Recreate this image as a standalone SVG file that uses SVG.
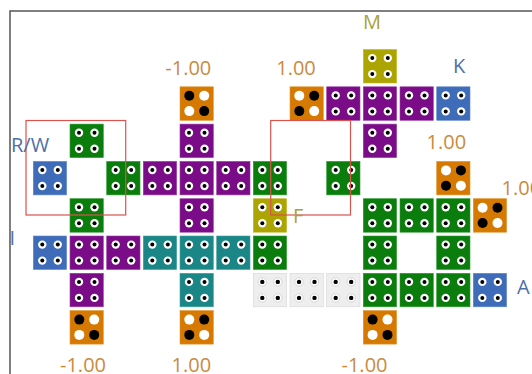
<svg xmlns="http://www.w3.org/2000/svg" xmlns:xlink="http://www.w3.org/1999/xlink" width="532" height="374" viewBox="0 0 532 374">
<style>
.t{stroke-width:0.6}
.g{fill:#0b7d0d;stroke:#2f9a30}
.p{fill:#7b0c88;stroke:#9a3aa6}
.b{fill:#3e6cb8;stroke:#5f88c9}
.c{fill:#1a8686;stroke:#3fa0a0}
.o{fill:#d67900;stroke:#e0952f}
.y{fill:#aca400;stroke:#c0b92f}
.e{fill:#eeeeee;stroke:#d6d6d6}
.lbl{font-family:"Open Sans","Noto Sans",sans-serif;font-size:20px}
.num{fill:#c98b3e}
.blu{fill:#4f6fa8}
.olv{fill:#a9a23a}
.sel{fill:none;stroke:#d9534f;stroke-width:1.2}
</style>
<defs>
<g id="dots">
<circle cx="9" cy="8.6" r="4.2" fill="#fff"/><circle cx="24.5" cy="8.6" r="4.2" fill="#fff"/>
<circle cx="9" cy="24.6" r="4.2" fill="#fff"/><circle cx="24.5" cy="24.6" r="4.2" fill="#fff"/>
<circle cx="9" cy="8.6" r="2" fill="#000"/><circle cx="24.5" cy="8.6" r="2" fill="#000"/>
<circle cx="9" cy="24.6" r="2" fill="#000"/><circle cx="24.5" cy="24.6" r="2" fill="#000"/>
</g>
<g id="gdots">
<circle cx="9" cy="8.6" r="4.2" fill="#fff" stroke="#cfcfcf" stroke-width="0.8"/><circle cx="24.5" cy="8.6" r="4.2" fill="#fff" stroke="#cfcfcf" stroke-width="0.8"/>
<circle cx="9" cy="24.6" r="4.2" fill="#fff" stroke="#cfcfcf" stroke-width="0.8"/><circle cx="24.5" cy="24.6" r="4.2" fill="#fff" stroke="#cfcfcf" stroke-width="0.8"/>
<circle cx="9" cy="8.6" r="2.2" fill="#000"/><circle cx="24.5" cy="8.6" r="2.2" fill="#000"/>
<circle cx="9" cy="24.6" r="2.2" fill="#000"/><circle cx="24.5" cy="24.6" r="2.2" fill="#000"/>
</g>
<g id="neg">
<circle cx="9.3" cy="9" r="5" fill="#000"/><circle cx="24.2" cy="9" r="5" fill="#fff"/>
<circle cx="9.3" cy="24.3" r="5" fill="#fff"/><circle cx="24.2" cy="24.3" r="5" fill="#000"/>
</g>
<g id="pos">
<circle cx="9.3" cy="9" r="5" fill="#fff"/><circle cx="24.2" cy="9" r="5" fill="#000"/>
<circle cx="9.3" cy="24.3" r="5" fill="#000"/><circle cx="24.2" cy="24.3" r="5" fill="#fff"/>
</g>
<rect id="sq" width="33.3" height="33.5"/>
</defs>
<rect width="532" height="374" fill="#fff"/>
<path d="M10,374 V11 H532" fill="none" stroke="#555" stroke-width="1.5"/>

<g id="tiles">
<!-- row 0 -->
<g id="r0c9" transform="translate(363.3,49.5)"><use href="#sq" class="t y"/><use href="#dots"/></g>
<!-- row 1 -->
<g id="r1c4" transform="translate(180,86.8)"><use href="#sq" class="t o"/><use href="#neg"/></g>
<g id="r1c7" transform="translate(290,86.8)"><use href="#sq" class="t o"/><use href="#pos"/></g>
<g id="r1c8" transform="translate(326.7,86.8)"><use href="#sq" class="t p"/><use href="#dots"/></g>
<g id="r1c9" transform="translate(363.3,86.8)"><use href="#sq" class="t p"/><use href="#dots"/></g>
<g id="r1c10" transform="translate(400,86.8)"><use href="#sq" class="t p"/><use href="#dots"/></g>
<g id="r1c11" transform="translate(436.7,86.8)"><use href="#sq" class="t b"/><use href="#dots"/></g>
<!-- row 2 -->
<g id="r2c1" transform="translate(70,124.1)"><use href="#sq" class="t g"/><use href="#dots"/></g>
<g id="r2c4" transform="translate(180,124.1)"><use href="#sq" class="t p"/><use href="#dots"/></g>
<g id="r2c9" transform="translate(363.3,124.1)"><use href="#sq" class="t p"/><use href="#dots"/></g>
<!-- row 3 -->
<g id="r3c0" transform="translate(33.3,161.4)"><use href="#sq" class="t b"/><use href="#dots"/></g>
<g id="r3c2" transform="translate(106.7,161.4)"><use href="#sq" class="t g"/><use href="#dots"/></g>
<g id="r3c3" transform="translate(143.3,161.4)"><use href="#sq" class="t p"/><use href="#dots"/></g>
<g id="r3c4" transform="translate(180,161.4)"><use href="#sq" class="t p"/><use href="#dots"/></g>
<g id="r3c5" transform="translate(216.7,161.4)"><use href="#sq" class="t p"/><use href="#dots"/></g>
<g id="r3c6" transform="translate(253.3,161.4)"><use href="#sq" class="t g"/><use href="#dots"/></g>
<g id="r3c8" transform="translate(326.7,161.4)"><use href="#sq" class="t g"/><use href="#dots"/></g>
<g id="r3c11" transform="translate(436.7,161.4)"><use href="#sq" class="t o"/><use href="#pos"/></g>
<!-- row 4 -->
<g id="r4c1" transform="translate(70,198.7)"><use href="#sq" class="t g"/><use href="#dots"/></g>
<g id="r4c4" transform="translate(180,198.7)"><use href="#sq" class="t p"/><use href="#dots"/></g>
<g id="r4c6" transform="translate(253.3,198.7)"><use href="#sq" class="t y"/><use href="#dots"/></g>
<g id="r4c9" transform="translate(363.3,198.7)"><use href="#sq" class="t g"/><use href="#dots"/></g>
<g id="r4c10" transform="translate(400,198.7)"><use href="#sq" class="t g"/><use href="#dots"/></g>
<g id="r4c11" transform="translate(436.7,198.7)"><use href="#sq" class="t g"/><use href="#dots"/></g>
<g id="r4c12" transform="translate(473.3,198.7)"><use href="#sq" class="t o"/><use href="#pos"/></g>
<!-- row 5 -->
<g id="r5c0" transform="translate(33.3,236)"><use href="#sq" class="t b"/><use href="#dots"/></g>
<g id="r5c1" transform="translate(70,236)"><use href="#sq" class="t p"/><use href="#dots"/></g>
<g id="r5c2" transform="translate(106.7,236)"><use href="#sq" class="t p"/><use href="#dots"/></g>
<g id="r5c3" transform="translate(143.3,236)"><use href="#sq" class="t c"/><use href="#dots"/></g>
<g id="r5c4" transform="translate(180,236)"><use href="#sq" class="t c"/><use href="#dots"/></g>
<g id="r5c5" transform="translate(216.7,236)"><use href="#sq" class="t c"/><use href="#dots"/></g>
<g id="r5c6" transform="translate(253.3,236)"><use href="#sq" class="t g"/><use href="#dots"/></g>
<g id="r5c9" transform="translate(363.3,236)"><use href="#sq" class="t g"/><use href="#dots"/></g>
<g id="r5c11" transform="translate(436.7,236)"><use href="#sq" class="t g"/><use href="#dots"/></g>
<!-- row 6 -->
<g id="r6c1" transform="translate(70,273.3)"><use href="#sq" class="t p"/><use href="#dots"/></g>
<g id="r6c4" transform="translate(180,273.3)"><use href="#sq" class="t c"/><use href="#dots"/></g>
<g id="r6c6" transform="translate(253.3,273.3)"><use href="#sq" class="t e"/><use href="#gdots"/></g>
<g id="r6c7" transform="translate(290,273.3)"><use href="#sq" class="t e"/><use href="#gdots"/></g>
<g id="r6c8" transform="translate(326.7,273.3)"><use href="#sq" class="t e"/><use href="#gdots"/></g>
<g id="r6c9" transform="translate(363.3,273.3)"><use href="#sq" class="t g"/><use href="#dots"/></g>
<g id="r6c10" transform="translate(400,273.3)"><use href="#sq" class="t g"/><use href="#dots"/></g>
<g id="r6c11" transform="translate(436.7,273.3)"><use href="#sq" class="t g"/><use href="#dots"/></g>
<g id="r6c12" transform="translate(473.3,273.3)"><use href="#sq" class="t b"/><use href="#dots"/></g>
<!-- row 7 -->
<g id="r7c1" transform="translate(70,310.6)"><use href="#sq" class="t o"/><use href="#neg"/></g>
<g id="r7c4" transform="translate(180,310.6)"><use href="#sq" class="t o"/><use href="#pos"/></g>
<g id="r7c9" transform="translate(363.3,310.6)"><use href="#sq" class="t o"/><use href="#neg"/></g>
</g>

<g id="selections">
<rect class="sel" x="26" y="120.5" width="99.7" height="94.5"/>
<rect class="sel" x="270.7" y="120.5" width="79.8" height="94.5"/>
</g>

<g id="labels" class="lbl">
<text class="num" x="188.3" y="75" text-anchor="middle">-1.00</text>
<text class="num" x="296" y="75" text-anchor="middle">1.00</text>
<text class="olv" x="372" y="29.3" text-anchor="middle">M</text>
<text class="blu" x="459" y="72.7" text-anchor="middle">K</text>
<text class="num" x="446.3" y="149.3" text-anchor="middle">1.00</text>
<text class="num" x="501.5" y="195">1.00</text>
<text class="olv" x="293" y="223.3">F</text>
<text class="blu" x="11" y="151.7">R/W</text>
<text class="blu" x="9.5" y="245">I</text>
<text class="blu" x="517" y="294">A</text>
<text class="num" x="83" y="371.7" text-anchor="middle">-1.00</text>
<text class="num" x="191.3" y="371.7" text-anchor="middle">1.00</text>
<text class="num" x="364.5" y="371.7" text-anchor="middle">-1.00</text>
</g>
</svg>
